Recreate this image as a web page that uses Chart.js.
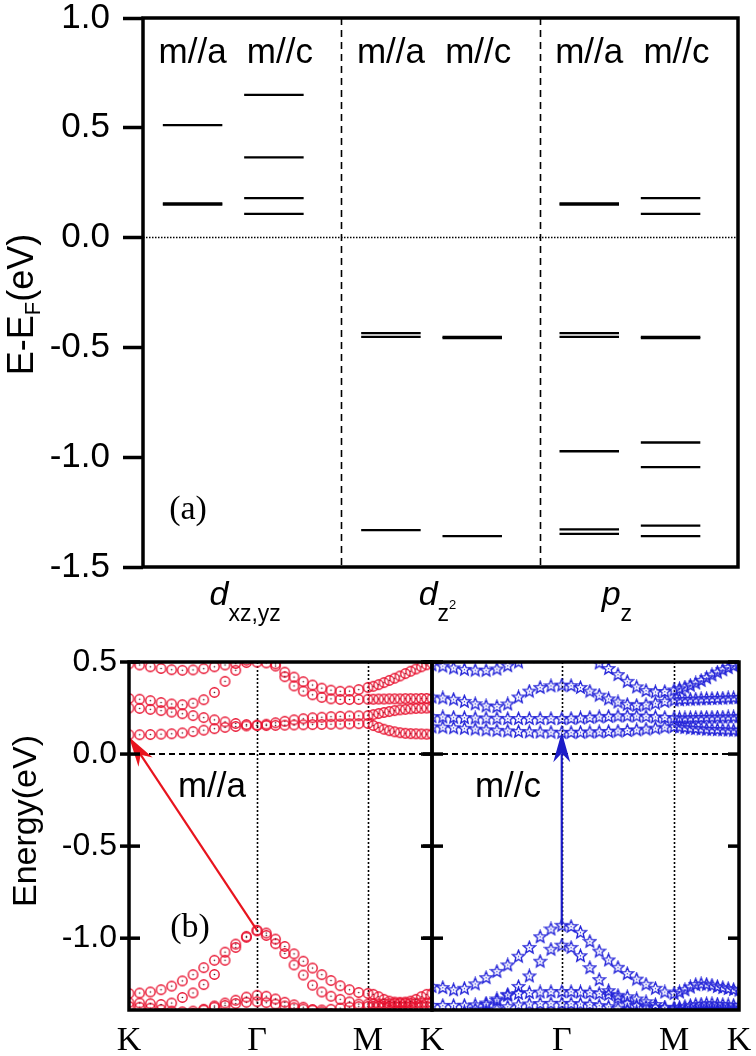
<!DOCTYPE html>
<html>
<head>
<meta charset="utf-8">
<script src="https://cdn.jsdelivr.net/npm/chart.js@4.4.0/dist/chart.umd.min.js"></script>
<style>
html, body { margin: 0; padding: 0; background: #fff; }
#wrap { position: relative; width: 756px; height: 1056px; overflow: hidden; }
canvas { position: absolute; }
</style>
</head>
<body>
<div id="wrap">
  <canvas id="levels" width="756" height="640" style="left:0;top:0"></canvas>
  <canvas id="bandA" width="445" height="416" style="left:0;top:640px"></canvas>
  <canvas id="bandC" width="336" height="416" style="left:420px;top:640px"></canvas>
</div>
<script>
// (a) energy levels
const orbitals = ['dxz,yz', 'dz2', 'pz'];
const columns = ['m//a', 'm//c'];
const dxzA = [0.512, 0.150, 0.156];
const dxzC = [0.650, 0.365, 0.180, 0.108];
const dz2A = [-0.435, -0.452, -1.332];
const dz2C = [-0.452, -0.458, -1.359];
const pzA = [0.150, 0.156, -0.435, -0.452, -0.973, -1.329, -1.349];
const pzC = [0.180, 0.108, -0.452, -0.458, -0.933, -1.045, -1.312, -1.359];
const levelTicks = [1.0, 0.5, 0.0, -0.5, -1.0, -1.5];

// (b) bands along K-Γ-M-K
const kPath = [0, 0.1111, 0.2222, 0.3333, 0.4444, 0.5556, 0.6667, 0.7778, 0.8889, 1.0, 1.1111, 1.2222, 1.3333,
  1.4295, 1.5258, 1.6220, 1.7182, 1.8145, 1.9107, 2.0069, 2.1031, 2.1994, 2.2956, 2.3918, 2.4880,
  2.5436, 2.5991, 2.6547, 2.7102, 2.7658, 2.8214, 2.8769, 2.9325, 2.9880, 3.0436, 3.0991, 3.1547];
const kTicks = [0, 1.3333, 2.4880, 3.1547];
const kLabels = ['K', 'Γ', 'M', 'K'];
const bandTicks = [0.5, 0.0, -0.5, -1.0];

const aC1 = [0.105, 0.105, 0.106, 0.108, 0.110, 0.115, 0.122, 0.130, 0.138, 0.145, 0.150, 0.153, 0.155,
  0.155, 0.156, 0.157, 0.158, 0.159, 0.160, 0.161, 0.162, 0.163, 0.164, 0.165, 0.166,
  0.155, 0.145, 0.135, 0.127, 0.121, 0.116, 0.113, 0.111, 0.110, 0.109, 0.108, 0.108];
const aC2 = [0.250, 0.248, 0.243, 0.236, 0.228, 0.219, 0.209, 0.198, 0.186, 0.175, 0.166, 0.160, 0.157,
  0.162, 0.170, 0.178, 0.186, 0.192, 0.197, 0.200, 0.203, 0.205, 0.207, 0.208, 0.209,
  0.214, 0.220, 0.226, 0.231, 0.236, 0.240, 0.243, 0.246, 0.248, 0.249, 0.250, 0.250];
const aC3 = [0.302, 0.298, 0.290, 0.280, 0.272, 0.268, 0.276, 0.295, 0.335, 0.395, 0.455, 0.510, 0.560,
  0.540, 0.490, 0.420, 0.370, 0.342, 0.322, 0.308, 0.300, 0.297, 0.296, 0.297, 0.298,
  0.298, 0.299, 0.299, 0.300, 0.300, 0.300, 0.301, 0.301, 0.301, 0.302, 0.302, 0.302];
const aC4 = [0.490, 0.484, 0.474, 0.465, 0.458, 0.455, 0.457, 0.464, 0.474, 0.484, 0.492, 0.497, 0.499,
  0.495, 0.478, 0.445, 0.418, 0.393, 0.375, 0.358, 0.347, 0.341, 0.342, 0.350, 0.362,
  0.368, 0.377, 0.388, 0.400, 0.412, 0.424, 0.437, 0.450, 0.462, 0.474, 0.485, 0.493];
const aV1 = [-1.300, -1.298, -1.292, -1.280, -1.260, -1.232, -1.198, -1.160, -1.120, -1.076, -1.032, -0.990, -0.957,
  -0.972, -1.005, -1.045, -1.085, -1.125, -1.162, -1.198, -1.230, -1.258, -1.280, -1.295, -1.300,
  -1.305, -1.318, -1.332, -1.342, -1.347, -1.348, -1.347, -1.342, -1.332, -1.318, -1.305, -1.300];
const aV2 = [-1.350, -1.352, -1.356, -1.360, -1.352, -1.322, -1.297, -1.252, -1.197, -1.120, -1.050, -0.995, -0.960,
  -0.985, -1.030, -1.083, -1.145, -1.200, -1.255, -1.292, -1.315, -1.332, -1.346, -1.358, -1.358,
  -1.357, -1.357, -1.356, -1.356, -1.355, -1.355, -1.354, -1.354, -1.353, -1.352, -1.351, -1.350];
const aV3 = [-1.440, -1.440, -1.440, -1.440, -1.432, -1.422, -1.408, -1.390, -1.368, -1.352, -1.337, -1.320, -1.310,
  -1.315, -1.330, -1.348, -1.362, -1.375, -1.388, -1.400, -1.410, -1.420, -1.428, -1.432, -1.435,
  -1.435, -1.435, -1.435, -1.435, -1.435, -1.435, -1.435, -1.435, -1.435, -1.435, -1.435, -1.435];
const aV4 = [-1.370, -1.375, -1.380, -1.388, -1.396, -1.400, -1.396, -1.386, -1.375, -1.365, -1.355, -1.348, -1.345,
  -1.350, -1.358, -1.368, -1.378, -1.385, -1.390, -1.390, -1.386, -1.380, -1.375, -1.372, -1.370,
  -1.370, -1.370, -1.370, -1.370, -1.370, -1.370, -1.370, -1.370, -1.370, -1.370, -1.370, -1.370];

const cC1 = [0.148, 0.146, 0.143, 0.140, 0.136, 0.132, 0.129, 0.126, 0.123, 0.121, 0.120, 0.119, 0.118,
  0.118, 0.119, 0.120, 0.121, 0.123, 0.125, 0.128, 0.132, 0.136, 0.141, 0.146, 0.150,
  0.147, 0.144, 0.141, 0.139, 0.137, 0.135, 0.134, 0.133, 0.132, 0.131, 0.130, 0.130];
const cC2 = [0.203, 0.202, 0.200, 0.198, 0.196, 0.195, 0.194, 0.193, 0.193, 0.193, 0.193, 0.193, 0.193,
  0.194, 0.196, 0.199, 0.202, 0.205, 0.207, 0.208, 0.207, 0.205, 0.202, 0.199, 0.197,
  0.196, 0.196, 0.197, 0.198, 0.199, 0.200, 0.200, 0.201, 0.201, 0.202, 0.202, 0.203];
const cC3 = [0.310, 0.305, 0.298, 0.286, 0.273, 0.262, 0.258, 0.272, 0.310, 0.342, 0.362, 0.371, 0.375,
  0.372, 0.362, 0.342, 0.320, 0.300, 0.283, 0.270, 0.265, 0.268, 0.276, 0.286, 0.293,
  0.295, 0.297, 0.298, 0.299, 0.300, 0.301, 0.302, 0.303, 0.304, 0.305, 0.306, 0.307];
const cC4 = [0.485, 0.478, 0.468, 0.460, 0.456, 0.455, 0.462, 0.480, 0.500, 0.530, 0.560, 0.590, 0.600,
  0.580, 0.560, 0.530, 0.495, 0.465, 0.432, 0.395, 0.365, 0.345, 0.338, 0.340, 0.348,
  0.355, 0.364, 0.374, 0.386, 0.400, 0.415, 0.430, 0.445, 0.458, 0.470, 0.480, 0.490];
const cV1 = [-1.262, -1.268, -1.280, -1.272, -1.248, -1.214, -1.180, -1.145, -1.098, -1.050, -0.992, -0.950, -0.930,
  -0.936, -0.968, -1.017, -1.070, -1.118, -1.158, -1.192, -1.222, -1.250, -1.272, -1.292, -1.300,
  -1.292, -1.280, -1.265, -1.252, -1.248, -1.250, -1.255, -1.262, -1.268, -1.273, -1.278, -1.282];
const cV2 = [-1.365, -1.365, -1.365, -1.364, -1.362, -1.352, -1.338, -1.305, -1.262, -1.205, -1.125, -1.060, -1.038,
  -1.050, -1.095, -1.160, -1.225, -1.285, -1.325, -1.352, -1.365, -1.372, -1.376, -1.378, -1.378,
  -1.375, -1.370, -1.365, -1.360, -1.358, -1.356, -1.356, -1.358, -1.360, -1.362, -1.364, -1.365];
const cV3 = [-1.420, -1.420, -1.410, -1.400, -1.385, -1.360, -1.330, -1.310, -1.300, -1.295, -1.292, -1.290, -1.290,
  -1.290, -1.292, -1.295, -1.300, -1.305, -1.310, -1.318, -1.330, -1.345, -1.360, -1.375, -1.385,
  -1.390, -1.395, -1.400, -1.400, -1.400, -1.400, -1.400, -1.400, -1.400, -1.400, -1.400, -1.400];
const cV4 = [-1.440, -1.440, -1.440, -1.430, -1.420, -1.400, -1.385, -1.372, -1.362, -1.357, -1.355, -1.354, -1.354,
  -1.355, -1.357, -1.360, -1.365, -1.372, -1.380, -1.390, -1.400, -1.410, -1.420, -1.430, -1.430,
  -1.420, -1.410, -1.400, -1.395, -1.390, -1.390, -1.390, -1.390, -1.390, -1.390, -1.390, -1.390];

// optical transitions (k, E)
const arrowFromA = [1.3333, -0.957];
const arrowToA = [0.0, 0.092];
const arrowFromC = [1.3333, -0.930];
const arrowToC = [1.3333, 0.118];

const RED = '#e8102e';
const BLUE = '#2222d8';
const SANS = '"Liberation Sans"';
const SERIF = '"Liberation Serif"';

Chart.defaults.font.family = 'Liberation Sans';
Chart.defaults.color = '#000';

function ringMarker(color) {
    const c = document.createElement('canvas');
    c.width = 13;
    c.height = 13;
    const g = c.getContext('2d');
    g.strokeStyle = color;
    g.lineWidth = 1.4;
    g.beginPath();
    g.arc(6.5, 6.5, 4.7, 0, Math.PI * 2);
    g.stroke();
    g.fillStyle = '#4a0c18';
    g.beginPath();
    g.arc(6.5, 6.5, 0.8, 0, Math.PI * 2);
    g.fill();
    return c;
}

function starMarker(color) {
    const c = document.createElement('canvas');
    c.width = 15;
    c.height = 15;
    const g = c.getContext('2d');
    g.strokeStyle = color;
    g.lineWidth = 1.3;
    g.beginPath();
    for (let i = 0; i < 10; i++) {
        const r = i % 2 ? 2.8 : 6.4;
        const a = -Math.PI / 2 + i * Math.PI / 5;
        const px = 7.5 + r * Math.cos(a);
        const py = 7.8 + r * Math.sin(a);
        if (i === 0) g.moveTo(px, py); else g.lineTo(px, py);
    }
    g.closePath();
    g.stroke();
    g.fillStyle = color;
    g.beginPath();
    g.arc(7.5, 7.8, 0.7, 0, Math.PI * 2);
    g.fill();
    return c;
}

function line(ctx, x0, y0, x1, y1) {
    ctx.beginPath();
    ctx.moveTo(x0, y0);
    ctx.lineTo(x1, y1);
    ctx.stroke();
}

// draws a run of text pieces [text, font, baseline shift] centred on cx
function drawPieces(ctx, pieces, cx, baseY) {
    let total = 0;
    pieces.forEach(p => { ctx.font = p[1]; total += ctx.measureText(p[0]).width; });
    let x = cx - total / 2;
    ctx.textAlign = 'left';
    ctx.textBaseline = 'alphabetic';
    pieces.forEach(p => {
        ctx.font = p[1];
        ctx.fillText(p[0], x, baseY + p[2]);
        x += ctx.measureText(p[0]).width;
    });
}

// keep the chart area where the layout padding puts it
function noAutoPad(s) {
    s.paddingTop = 0;
    s.paddingBottom = 0;
    s.paddingLeft = 0;
    s.paddingRight = 0;
}

const orbitalPieces = [
    [['d', 'italic 34px ' + SANS, 0], ['xz,yz', '23px ' + SANS, 16]],
    [['d', 'italic 34px ' + SANS, 0], ['z', '23px ' + SANS, 16], ['2', '13px ' + SANS, 4]],
    [['p', 'italic 34px ' + SANS, 0], ['z', '23px ' + SANS, 16]]
];
const orbitalShift = [3, -3, -22];
const headerAt = [0.25, 0.69];
const segStart = [0.10, 0.51];
const segEnd = [0.40, 0.81];

const levelFrame = {
    id: 'levelFrame',
    beforeDatasetsDraw(chart) {
        const { ctx, chartArea: a, scales: { x, y } } = chart;
        ctx.save();
        ctx.strokeStyle = '#000';
        ctx.lineWidth = 1.6;
        ctx.setLineDash([7, 5]);
        for (let i = 1; i < orbitals.length; i++) {
            const px = Math.round(x.getPixelForValue(i)) + 0.5;
            line(ctx, px, a.top, px, a.bottom);
        }
        ctx.setLineDash([1.5, 1.5]);
        ctx.lineWidth = 1.5;
        const py = y.getPixelForValue(0);
        line(ctx, a.left, py, a.right, py);
        ctx.restore();
    },
    afterDatasetsDraw(chart) {
        const { ctx, chartArea: a, scales: { x } } = chart;
        ctx.save();
        ctx.strokeStyle = '#000';
        ctx.lineWidth = 3.5;
        ctx.strokeRect(a.left, a.top, a.right - a.left, a.bottom - a.top);
        ctx.fillStyle = '#000';
        ctx.font = '35px ' + SANS;
        ctx.textAlign = 'center';
        ctx.textBaseline = 'alphabetic';
        orbitals.forEach((o, i) => {
            columns.forEach((c, j) => ctx.fillText(c, x.getPixelForValue(i + headerAt[j]), a.top + 45));
        });
        orbitals.forEach((o, i) => {
            drawPieces(ctx, orbitalPieces[i], x.getPixelForValue(i + 0.5) + orbitalShift[i], a.bottom + 38);
        });
        ctx.font = '34px ' + SERIF;
        ctx.textAlign = 'center';
        ctx.textBaseline = 'middle';
        ctx.fillText('(a)', a.left + 45, 510);
        ctx.translate(0, (a.top + a.bottom) / 2 + 12);
        ctx.rotate(-Math.PI / 2);
        drawPieces(ctx, [['E-E', '36px ' + SANS, 0], ['F', '22px ' + SANS, 7], ['(eV)', '36px ' + SANS, 0]], 0, 33);
        ctx.restore();
    }
};

function drawArrow(ctx, x0, y0, x1, y1, color) {
    const ang = Math.atan2(y1 - y0, x1 - x0);
    const cs = Math.cos(ang), sn = Math.sin(ang);
    const len = 30, half = 8.5, notch = 21;
    ctx.strokeStyle = color;
    ctx.fillStyle = color;
    ctx.lineWidth = 2.2;
    line(ctx, x0, y0, x1 - notch * cs, y1 - notch * sn);
    ctx.beginPath();
    ctx.moveTo(x1, y1);
    ctx.lineTo(x1 - len * cs + half * sn, y1 - len * sn - half * cs);
    ctx.lineTo(x1 - notch * cs, y1 - notch * sn);
    ctx.lineTo(x1 - len * cs - half * sn, y1 - len * sn + half * cs);
    ctx.closePath();
    ctx.fill();
}

const bandFrame = {
    id: 'bandFrame',
    beforeDatasetsDraw(chart) {
        const { ctx, chartArea: a, scales: { x, y } } = chart;
        ctx.save();
        ctx.strokeStyle = '#000';
        ctx.lineWidth = 1.6;
        ctx.setLineDash([2, 2]);
        [kTicks[1], kTicks[2]].forEach(k => {
            const px = Math.round(x.getPixelForValue(k)) + 0.5;
            line(ctx, px, a.top, px, a.bottom);
        });
        ctx.setLineDash([6, 4]);
        ctx.lineWidth = 2;
        const py = y.getPixelForValue(0);
        line(ctx, a.left, py, a.right, py);
        ctx.restore();
    },
    afterDatasetsDraw(chart, args, opts) {
        const { ctx, chartArea: a, scales: { x, y } } = chart;
        ctx.save();
        drawArrow(ctx, x.getPixelForValue(opts.from[0]), y.getPixelForValue(opts.from[1]),
            x.getPixelForValue(opts.to[0]), y.getPixelForValue(opts.to[1]), opts.arrowColor);
        ctx.strokeStyle = '#000';
        ctx.lineWidth = 3.5;
        ctx.strokeRect(a.left, a.top, a.right - a.left, a.bottom - a.top);
        bandTicks.forEach(v => {
            const py = y.getPixelForValue(v);
            line(ctx, a.left - 9, py, a.left + 11, py);
            line(ctx, a.right - 11, py, a.right, py);
        });
        ctx.fillStyle = '#000';
        ctx.font = '35px ' + SANS;
        ctx.textAlign = 'center';
        ctx.textBaseline = 'alphabetic';
        ctx.fillText(opts.note, a.left + opts.noteX, a.top + 135);
        if (opts.tag) {
            ctx.font = '34px ' + SERIF;
            ctx.textBaseline = 'middle';
            ctx.fillText(opts.tag, a.left + 61, a.top + 266);
            ctx.translate(0, 181);
            ctx.rotate(-Math.PI / 2);
            ctx.font = '34px ' + SANS;
            ctx.textBaseline = 'alphabetic';
            ctx.fillText('Energy(eV)', 0, 36);
        }
        ctx.restore();
    }
};

const levelSets = [];
const levelValues = [[dxzA, dxzC], [dz2A, dz2C], [pzA, pzC]];
levelValues.forEach((pair, i) => pair.forEach((vals, j) => vals.forEach(v => {
    levelSets.push({
        data: [{ x: i + segStart[j], y: v }, { x: i + segEnd[j], y: v }],
        showLine: true,
        borderColor: '#000',
        borderWidth: 2.3,
        borderCapStyle: 'butt',
        pointRadius: 0
    });
})));

new Chart(document.getElementById('levels'), {
    type: 'scatter',
    data: { datasets: levelSets },
    options: {
        responsive: false,
        animation: false,
        events: [],
        layout: { padding: { left: 0, right: 18, top: 18, bottom: 73 } },
        plugins: { legend: { display: false }, tooltip: { enabled: false } },
        scales: {
            x: { type: 'linear', min: 0, max: 3, display: false },
            y: {
                min: -1.5,
                max: 1.0,
                afterFit: s => { s.width = 143; noAutoPad(s); },
                afterBuildTicks: s => { s.ticks = levelTicks.map(v => ({ value: v })); },
                border: { display: false },
                grid: { drawOnChartArea: false, drawTicks: true, tickLength: 20, tickWidth: 3.5, tickColor: '#000' },
                ticks: {
                    padding: 13,
                    color: '#000',
                    font: { family: 'Liberation Sans', size: 35, lineHeight: 1 },
                    callback: v => v.toFixed(1)
                }
            }
        }
    },
    plugins: [levelFrame]
});

function bandSets(bands, marker) {
    return bands.map(vals => ({
        data: vals.map((e, i) => ({ x: kPath[i], y: e })),
        pointStyle: marker,
        pointRadius: 5,
        pointBorderWidth: 1,
        showLine: false,
        clip: 0
    }));
}

function bandOptions(left, frameOpts) {
    return {
        responsive: false,
        animation: false,
        events: [],
        layout: { padding: left ? { left: 0, right: 13, top: 22, bottom: 0 } : { left: 12, right: 17, top: 22, bottom: 0 } },
        plugins: { legend: { display: false }, tooltip: { enabled: false }, bandFrame: frameOpts },
        scales: {
            x: {
                type: 'linear',
                min: 0,
                max: kTicks[kTicks.length - 1],
                afterBuildTicks: s => { s.ticks = kTicks.map(v => ({ value: v })); },
                afterFit: s => { s.height = 46; noAutoPad(s); },
                border: { display: false },
                grid: { display: false, drawTicks: false },
                ticks: {
                    autoSkip: false,
                    maxRotation: 0,
                    padding: 14,
                    color: '#000',
                    font: { family: 'Liberation Serif', size: 34, lineHeight: 1 },
                    callback: (v, i) => (i === 0 && !left) ? '' : kLabels[i]
                }
            },
            y: {
                display: left,
                min: -1.39,
                max: 0.5,
                afterFit: s => { s.width = left ? 129 : 0; noAutoPad(s); },
                afterBuildTicks: s => { s.ticks = bandTicks.map(v => ({ value: v })); },
                border: { display: false },
                grid: { display: false, drawTicks: false },
                ticks: {
                    padding: 12,
                    color: '#000',
                    font: { family: 'Liberation Sans', size: 32, lineHeight: 1 },
                    callback: v => v.toFixed(1)
                }
            }
        }
    };
}

new Chart(document.getElementById('bandA'), {
    type: 'scatter',
    data: { datasets: bandSets([aC1, aC2, aC3, aC4, aV1, aV2, aV3, aV4], ringMarker(RED)) },
    options: bandOptions(true, { from: arrowFromA, to: arrowToA, arrowColor: '#e8141e', note: 'm//a', noteX: 83, tag: '(b)' }),
    plugins: [bandFrame]
});

new Chart(document.getElementById('bandC'), {
    type: 'scatter',
    data: { datasets: bandSets([cC1, cC2, cC3, cC4, cV1, cV2, cV3, cV4], starMarker(BLUE)) },
    options: bandOptions(false, { from: arrowFromC, to: arrowToC, arrowColor: '#1c1cc8', note: 'm//c', noteX: 76, tag: '' }),
    plugins: [bandFrame]
});
</script>
</body>
</html>
